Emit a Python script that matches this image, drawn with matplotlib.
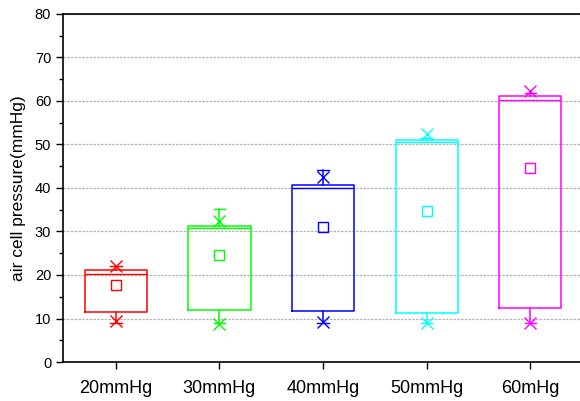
import matplotlib
matplotlib.use("Agg")
import matplotlib.pyplot as plt

plt.rcParams['font.family'] = ['Liberation Sans', 'DejaVu Sans']

labels = ['20mmHg', '30mmHg', '40mmHg', '50mmHg', '60mHg']
colors = ['#ff0000', '#00ff00', '#0000ff', '#00ffff', '#ff00ff']
q1 = [11.6, 12.0, 11.8, 11.3, 12.3]
med = [20.3, 30.8, 40.1, 50.6, 60.2]
q3 = [21.1, 31.3, 40.8, 51.0, 61.2]
mean = [17.6, 24.5, 31.1, 34.6, 44.5]
whis_lo = [9.0, 9.0, 9.0, 8.9, 9.0]
whis_hi = [22.0, 35.1, 44.1, 51.6, 61.8]
p1 = [9.5, 8.7, 9.3, 8.9, 9.0]
p99 = [22.1, 32.3, 42.6, 52.5, 62.4]

fig = plt.figure(figsize=(5.8, 4.01), dpi=100)
ax = fig.add_axes([63/580, 39/401, 519/580, 348/401])

for i in range(len(labels)):
    st = [dict(med=med[i], q1=q1[i], q3=q3[i], whislo=whis_lo[i], whishi=whis_hi[i],
               mean=mean[i], fliers=[p1[i], p99[i]])]
    c = colors[i]
    ax.bxp(st, positions=[i + 1], widths=0.6, capwidths=0.11, showmeans=True,
           boxprops=dict(color=c, lw=1.1),
           medianprops=dict(color=c, lw=1.0),
           whiskerprops=dict(color=c, lw=1.1),
           capprops=dict(color=c, lw=1.0),
           meanprops=dict(marker='s', markersize=7, markerfacecolor='none',
                          markeredgecolor=c, markeredgewidth=1.0),
           flierprops=dict(marker='x', markersize=9, markeredgecolor=c,
                           markeredgewidth=1.0))

ax.set_xlim(0.49, 5.5)
ax.set_ylim(0, 80)
ax.set_yticks(range(0, 81, 10))
ax.set_yticks(range(5, 80, 10), minor=True)
ax.set_xticks(range(1, 6))
ax.set_xticklabels(labels)
ax.tick_params(axis='x', labelsize=13, length=5, width=1, pad=8)
ax.tick_params(axis='y', labelsize=10.5, length=5, width=1)
ax.tick_params(axis='y', which='minor', length=3, width=1)
ax.yaxis.grid(True, linestyle=(0, (2, 1)), color='#b4b4b4', lw=0.9)
ax.set_axisbelow(True)
for s in ['left', 'bottom', 'top']:
    ax.spines[s].set_linewidth(1.2)
ax.spines['right'].set_visible(False)
ax.set_ylabel('air cell pressure(mmHg)', fontsize=12.5, labelpad=6)

fig.savefig('out.png', dpi=100)
